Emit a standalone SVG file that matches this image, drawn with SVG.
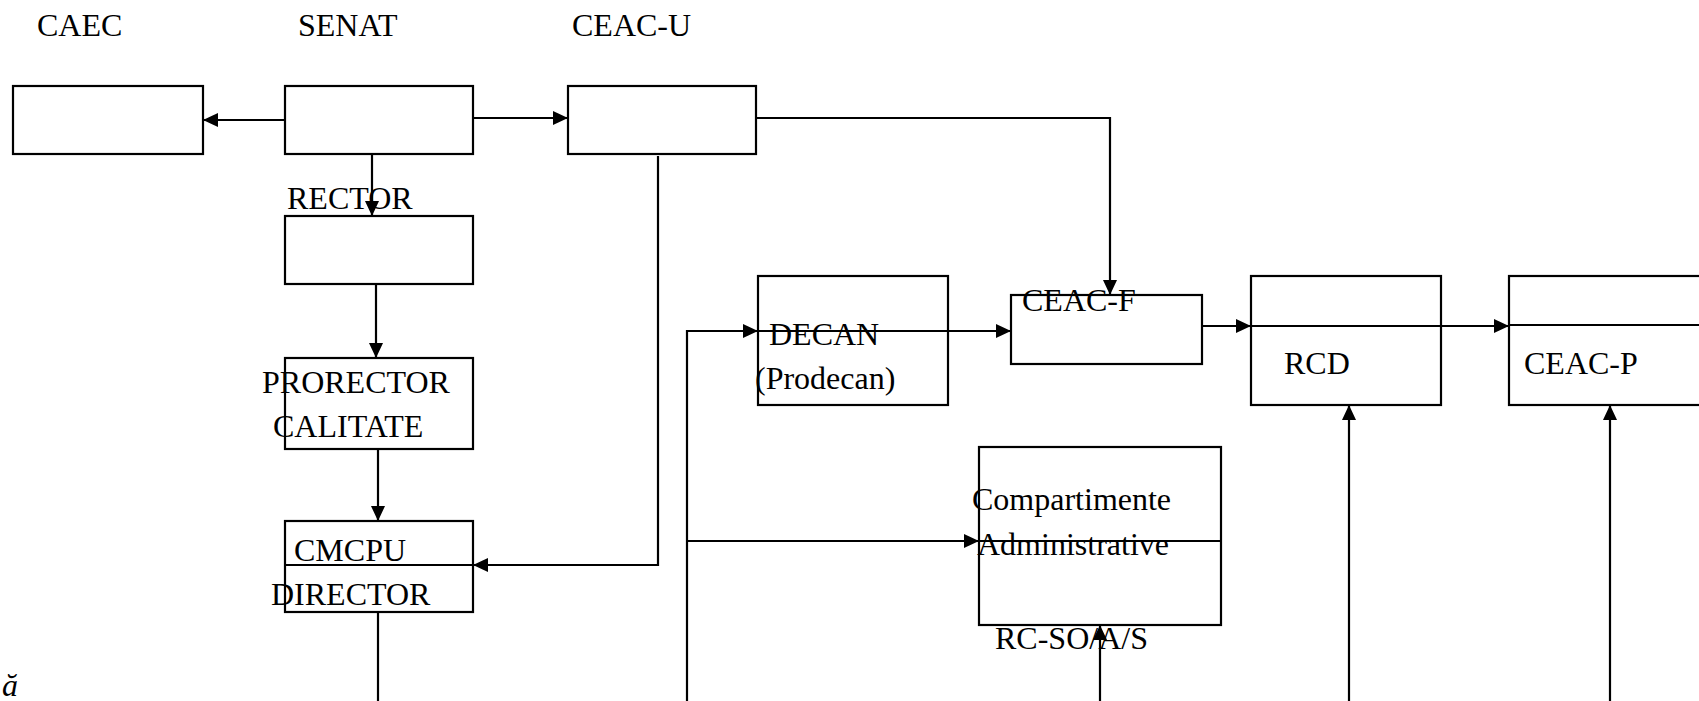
<svg xmlns="http://www.w3.org/2000/svg" width="1699" height="701" viewBox="0 0 1699 701">
<style>
.box{fill:none;stroke:#000;stroke-width:2.2}
.ln{fill:none;stroke:#000;stroke-width:2.2}
.ar{marker-end:url(#arr)}
text{font-family:"Liberation Serif","Times New Roman",serif;font-size:32px;fill:#000}
</style>
<defs>
<marker id="arr" markerUnits="userSpaceOnUse" markerWidth="16" markerHeight="15" refX="15" refY="7" orient="auto">
<path d="M0,0 L15,7 L0,14 z" fill="#000"/>
</marker>
</defs>
<rect width="1699" height="701" fill="#fff"/>
<g id="caec"><rect class="box" x="13" y="86" width="190" height="68"/><text x="37" y="36">CAEC</text></g>
<g id="senat"><rect class="box" x="285" y="86" width="188" height="68"/><text x="298" y="36">SENAT</text></g>
<g id="ceac-u"><rect class="box" x="568" y="86" width="188" height="68"/><text x="572" y="36">CEAC-U</text></g>
<g id="rector"><rect class="box" x="285" y="216" width="188" height="68"/><text x="287" y="209">RECTOR</text></g>
<g id="prorector"><rect class="box" x="285" y="358" width="188" height="91"/><text x="262" y="393">PRORECTOR</text><text x="273" y="437">CALITATE</text></g>
<g id="cmcpu"><rect class="box" x="285" y="521" width="188" height="91"/><text x="294" y="561">CMCPU</text><text x="271" y="605">DIRECTOR</text></g>
<g id="decan"><rect class="box" x="758" y="276" width="190" height="129"/><text x="769" y="345">DECAN</text><text x="755" y="389">(Prodecan)</text></g>
<g id="ceac-f"><rect class="box" x="1011" y="295" width="191" height="69"/><text x="1022" y="311">CEAC-F</text></g>
<g id="rcd"><rect class="box" x="1251" y="276" width="190" height="129"/><text x="1284" y="374">RCD</text></g>
<g id="ceac-p"><rect class="box" x="1509" y="276" width="220" height="129"/><text x="1524" y="374">CEAC-P</text></g>
<g id="compartimente"><rect class="box" x="979" y="447" width="242" height="178"/><text x="972" y="510">Compartimente</text><text x="977" y="555">Administrative</text><text x="995" y="649">RC-SO/A/S</text></g>
<g id="note"><text x="2" y="696" font-style="italic">ă</text></g>
<g id="connectors">
<path class="ln ar" d="M285,120 H203"/>
<path class="ln ar" d="M473,118 H568"/>
<path class="ln ar" d="M756,118 H1110 V295"/>
<path class="ln ar" d="M372,154 V216"/>
<path class="ln ar" d="M376,284 V358"/>
<path class="ln ar" d="M378,449 V521"/>
<path class="ln ar" d="M658,156 V565 H473"/>
<path class="ln" d="M285,565 H473"/>
<path class="ln" d="M378,612 V701"/>
<path class="ln ar" d="M687,701 V331 H758"/>
<path class="ln" d="M758,331 H948"/>
<path class="ln ar" d="M948,331 H1011"/>
<path class="ln ar" d="M687,541 H979"/>
<path class="ln" d="M979,541 H1221"/>
<path class="ln ar" d="M1202,326 H1251"/>
<path class="ln" d="M1251,326 H1441"/>
<path class="ln ar" d="M1441,326 H1509"/>
<path class="ln" d="M1509,325 H1699"/>
<path class="ln ar" d="M1349,701 V405"/>
<path class="ln ar" d="M1610,701 V405"/>
<path class="ln ar" d="M1100,701 V625"/>
</g>
</svg>
